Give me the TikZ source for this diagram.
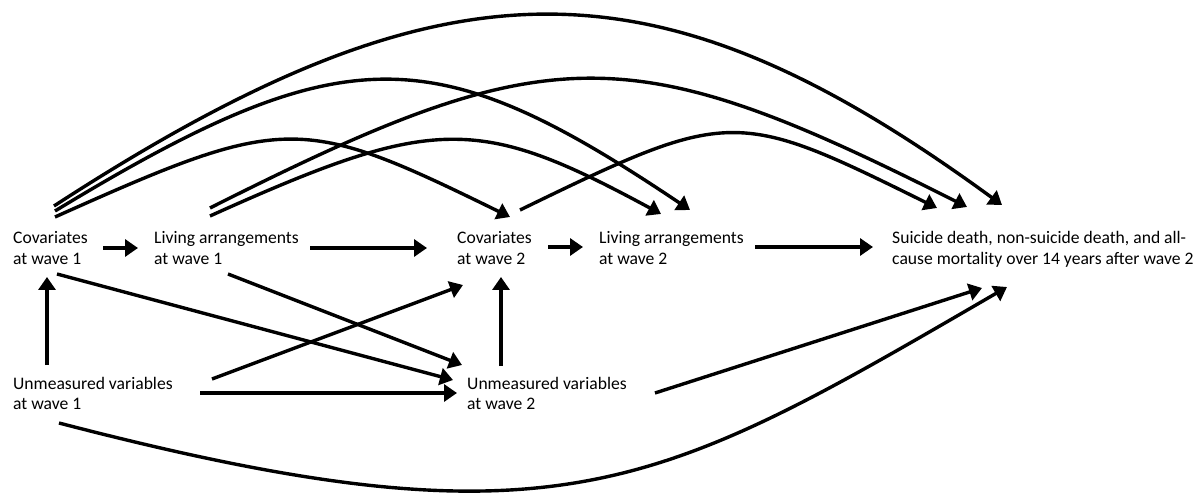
\documentclass[tikz,border=0pt]{standalone}
\usepackage{fontspec}
\setmainfont{Carlito}
\usetikzlibrary{arrows.meta,calc}
\tikzset{
  lbl/.style={anchor=base west, inner sep=0pt, font=\fontsize{17.6}{20.5}\selectfont},
  arr/.style={line width=3.4pt, -{Triangle[length=13pt,width=17pt]}},
}
\newcommand{\twoline}[2]{\begin{tabular}[t]{@{}l@{}}#1\\#2\end{tabular}}
\begin{document}
\begin{tikzpicture}[x=1pt,y=-1pt]
\useasboundingbox (0,0) rectangle (1199,494);
\node[lbl] (cov1) at (13,244) {\twoline{Covariates}{at wave 1}};
\node[lbl] (la1) at (154,244) {\twoline{Living arrangements}{at wave 1}};
\node[lbl] (cov2) at (457,244) {\twoline{Covariates}{at wave 2}};
\node[lbl] (la2) at (599,244) {\twoline{Living arrangements}{at wave 2}};
\node[lbl] (out) at (892,244) {\twoline{Suicide death, non-suicide death, and all-}{cause mortality over 14 years after wave 2}};
\node[lbl] (u1) at (13,389) {\twoline{Unmeasured variables}{at wave 1}};
\node[lbl] (u2) at (467,389) {\twoline{Unmeasured variables}{at wave 2}};
% straight connectors
\draw[arr] ($(cov1.base west)+(90,4)$) -- ($(la1.base west)+(-16,4)$);
\draw[arr] ($(la1.base west)+(156,4)$) -- ($(cov2.base west)+(-30,4)$);
\draw[arr] ($(cov2.base west)+(91,3)$) -- ($(la2.base west)+(-16,3)$);
\draw[arr] ($(la2.base west)+(156,3)$) -- ($(out.base west)+(-19,3)$);
\draw[arr] ($(u1.base west)+(34,-24)$) -- ($(cov1.base west)+(34,33)$);
\draw[arr] ($(u2.base west)+(34,-23)$) -- ($(cov2.base west)+(44,33)$);
\draw[arr] ($(u1.base west)+(187,4)$) -- ($(u2.base west)+(-10,4)$);
\draw[arr] ($(u1.base west)+(199,-10)$) -- ($(cov2.base west)+(6,41)$);
\draw[arr] ($(cov1.base west)+(44,30)$) -- ($(u2.base west)+(-14,-9)$);
\draw[arr] ($(la1.base west)+(74,30)$) -- ($(u2.base west)+(-5,-24)$);
\draw[arr] ($(u2.base west)+(188,4)$) -- ($(out.base west)+(90,44)$);
% curved connectors
\draw[arr] ($(u1.base west)+(46,34)$) .. controls +(500,130) and +(-350,203) .. ($(out.base west)+(115,43)$);
\draw[arr] ($(cov1.base west)+(41,-38)$) .. controls +(392,-254.5) and +(-347,-253.5) .. ($(out.base west)+(110,-39)$);
\draw[arr] ($(cov1.base west)+(42,-33)$) .. controls +(290,-176) and +(-256,-172) .. ($(la2.base west)+(91,-34)$);
\draw[arr] ($(cov1.base west)+(42,-27)$) .. controls +(230,-103) and +(-210,-103) .. ($(cov2.base west)+(53,-27)$);
\draw[arr] ($(la1.base west)+(56,-36)$) .. controls +(341,-172) and +(-339,-171) .. ($(out.base west)+(75,-37)$);
\draw[arr] ($(la1.base west)+(56,-28)$) .. controls +(224,-101) and +(-183,-99) .. ($(la2.base west)+(62,-30)$);
\draw[arr] ($(cov2.base west)+(63,-34)$) .. controls +(210,-102) and +(-202,-100) .. ($(out.base west)+(45,-36)$);
\end{tikzpicture}
\end{document}
